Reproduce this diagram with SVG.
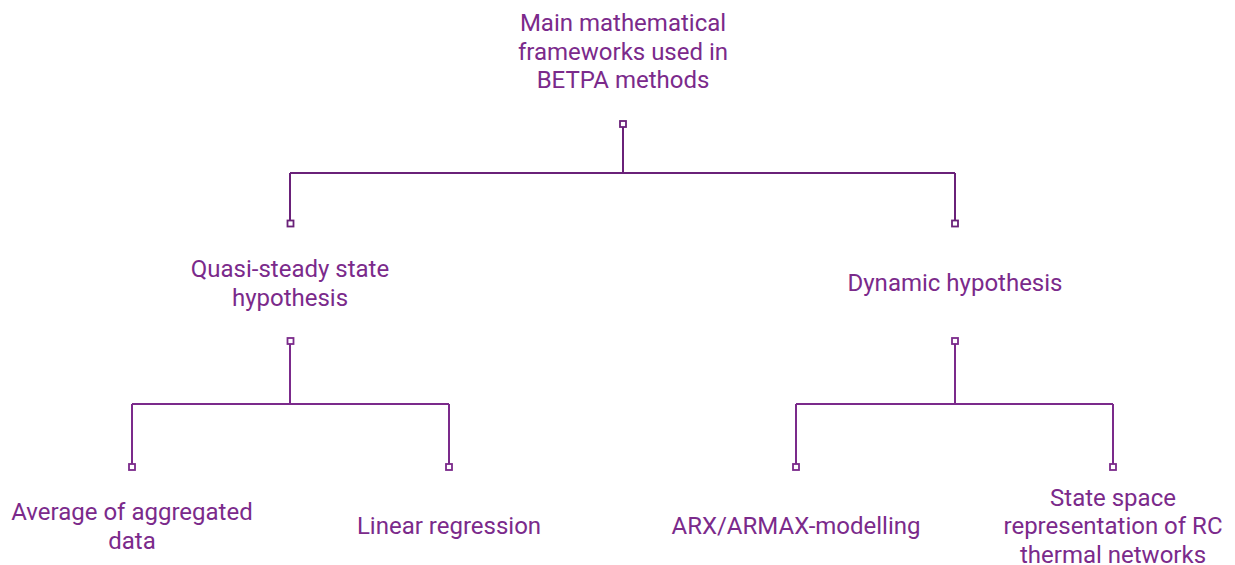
<svg xmlns="http://www.w3.org/2000/svg" width="1235" height="565" viewBox="0 0 1235 565">
<style>
text{font-family:Roboto,"Liberation Sans",sans-serif;font-size:24px;fill:#7b2a8b;text-anchor:middle}
.c{fill:none;stroke:#6a2179;stroke-width:2}
.c2{fill:none;stroke:#7b2a8b;stroke-width:2}
.sq{fill:#fff;stroke:#6a2179;stroke-width:1.8}
.sq2{fill:#fff;stroke:#7b2a8b;stroke-width:1.8}
</style>
<rect width="1235" height="565" fill="#fff"/>
<g id="connectors">
<path class="c" d="M623 127V173M290 173H955M290 173V221M955 173V221"/>
<path class="c2" d="M290 344V404M132 404H449M132 404V464M449 404V464"/>
<path class="c2" d="M955 344V404M796 404H1113M796 404V464M1113 404V464"/>
<rect class="sq" x="620" y="121" width="6" height="6"/>
<rect class="sq" x="287.5" y="220.5" width="6" height="6"/>
<rect class="sq" x="952" y="220.5" width="6" height="6"/>
<rect class="sq2" x="287.5" y="338" width="6" height="6"/>
<rect class="sq2" x="952" y="338" width="6" height="6"/>
<rect class="sq2" x="129" y="464" width="6" height="6"/>
<rect class="sq2" x="446" y="464" width="6" height="6"/>
<rect class="sq2" x="793" y="464" width="6" height="6"/>
<rect class="sq2" x="1110" y="464" width="6" height="6"/>
</g>
<g id="root"><text x="623" y="31">Main mathematical</text><text x="623" y="59.5">frameworks used in</text><text x="623" y="88">BETPA methods</text></g>
<g id="quasi"><text x="290" y="277">Quasi-steady state</text><text x="290" y="305.5">hypothesis</text></g>
<g id="dynamic"><text x="955" y="291">Dynamic hypothesis</text></g>
<g id="average"><text x="132" y="520">Average of aggregated</text><text x="132" y="548.5">data</text></g>
<g id="linear"><text x="449" y="534">Linear regression</text></g>
<g id="arx"><text x="796" y="534">ARX/ARMAX-modelling</text></g>
<g id="statespace"><text x="1113" y="505.5">State space</text><text x="1113" y="534">representation of RC</text><text x="1113" y="562.5">thermal networks</text></g>
</svg>
